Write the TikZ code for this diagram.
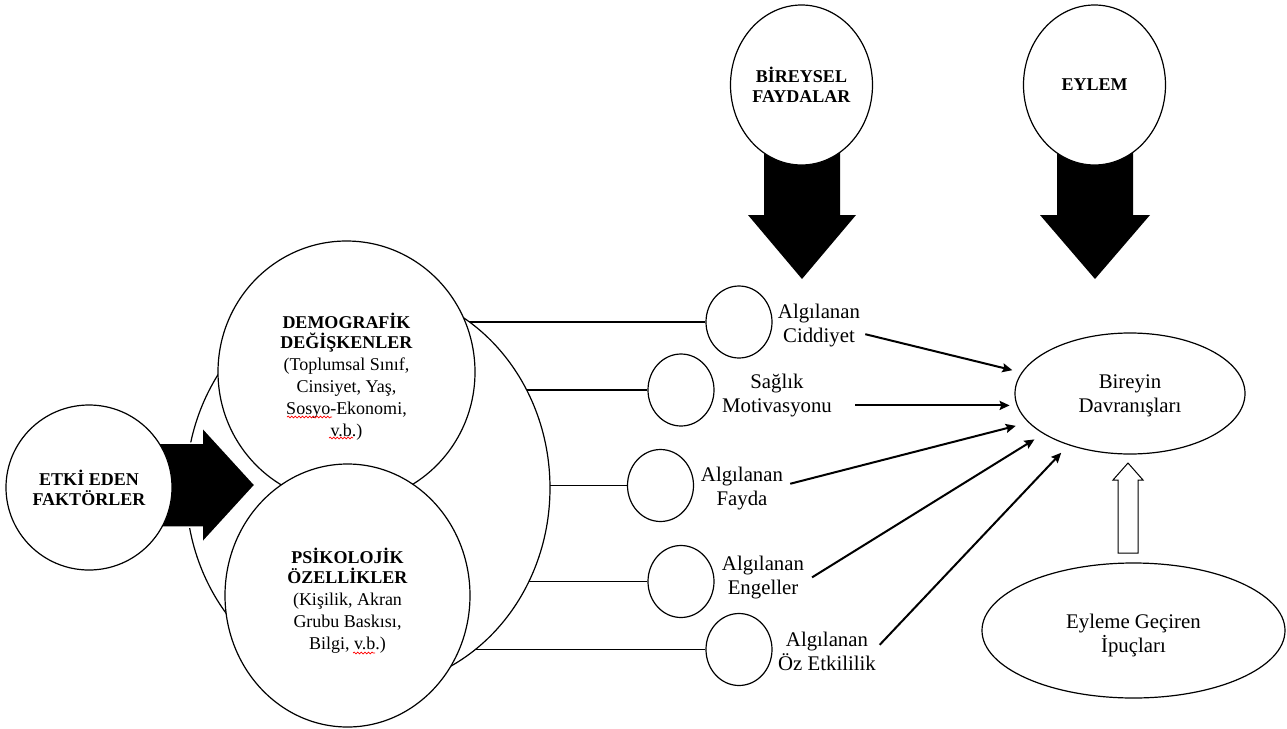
\documentclass[tikz,border=0pt]{standalone}
\usepackage{fontspec}
\setmainfont{Liberation Serif}
\usetikzlibrary{shapes.geometric,arrows.meta,decorations.pathmorphing}
\tikzset{
  shp/.style={ellipse, draw, line width=0.6pt, fill=white, inner sep=0pt, align=center},
  bigtxt/.style={font=\fontsize{9}{10}\selectfont},
  midtxt/.style={font=\fontsize{9}{11}\selectfont},
  lab/.style={align=center, inner sep=0pt, font=\fontsize{10.4}{12}\selectfont},
  arr/.style={-{Stealth[length=5pt,width=4.5pt,inset=0.8pt]}, line width=1pt},
  conn/.style={line width=0.6pt},
  blockarr/.style={fill=black},
  openarr/.style={draw=black, line width=0.5pt, fill=white},
  spell/.style={draw=red, line width=0.35pt, decorate, decoration={snake, amplitude=0.45pt, segment length=1.8pt}},
}
\begin{document}
\begin{tikzpicture}[x=0.5pt, y=-0.5pt]
\useasboundingbox (0,0) rectangle (1287,729);

% top block arrows (under circles)
\fill[blockarr] (764,140) -- (840,140) -- (840,215) -- (856,215) -- (802,279) -- (748,215) -- (764,215) -- cycle;
\fill[blockarr] (1057,140) -- (1133,140) -- (1133,215) -- (1150,215) -- (1095,279) -- (1040,215) -- (1057,215) -- cycle;

% top circles
\node[shp, bigtxt, minimum width=71pt, minimum height=80pt] (bir) at (801.5,85) {\textbf{BİREYSEL}\\\textbf{FAYDALAR}};
\node[shp, bigtxt, minimum width=71pt, minimum height=80pt] (eylem) at (1094.5,85) {\textbf{EYLEM}};

% small circles
\node[shp, minimum width=33pt, minimum height=36pt] (c1) at (739,322) {};
\node[shp, minimum width=33pt, minimum height=36pt] (c2) at (681,390) {};
\node[shp, minimum width=33pt, minimum height=36pt] (c3) at (660.5,485.5) {};
\node[shp, minimum width=33pt, minimum height=36pt] (c4) at (681,581.5) {};
\node[shp, minimum width=33pt, minimum height=36pt] (c5) at (739,649.5) {};

% centre of the big ellipse
\coordinate (bigc) at (368,488);
\draw[conn] (c1.west) -- (c1.west -| bigc);
\draw[conn] (c2.west) -- (c2.west -| bigc);
\draw[conn] (c3.west) -- (c3.west -| bigc);
\draw[conn] (c4.west) -- (c4.west -| bigc);
\draw[conn] (c5.west) -- (c5.west -| bigc);

% big enclosing ellipse and inner circles
\node[shp, minimum width=182pt, minimum height=200pt] (big) at (bigc) {};
\node[shp, midtxt, minimum width=128.5pt, minimum height=131pt] (demo) at (346.5,372)
  {\rule{0pt}{12pt}\textbf{DEMOGRAFİK}\\[-1pt]\textbf{DEĞİŞKENLER}\\(Toplumsal Sınıf,\\Cinsiyet, Yaş,\\Sosyo-Ekonomi,\\v.b.)};
\node[shp, midtxt, minimum width=122.5pt, minimum height=131.5pt] (psy) at (347.5,595.5)
  {\rule{0pt}{12.5pt}\textbf{PSİKOLOJİK}\\[-1pt]\textbf{ÖZELLİKLER}\\(Kişilik, Akran\\Grubu Baskısı,\\Bilgi, v.b.)};
% spell-check marks
\draw[spell] (287,417) -- (332,417);
\draw[spell] (329,438) -- (353,438);
\draw[spell] (353,653) -- (375,653);

% left block arrow
\filldraw[blockarr, draw=white, line width=0.75pt] (150,443) -- (202,443) -- (202,427) -- (255,485) -- (202,543) -- (202,527) -- (150,527) -- cycle;
\node[shp, bigtxt, minimum width=83pt, minimum height=82.5pt] (etki) at (89,487.5) {\textbf{ETKİ EDEN}\\\textbf{FAKTÖRLER}};

% labels
\node[lab] (l1) at (819,326) {Algılanan\\Ciddiyet};
\node[lab] (l2) at (777,395.5) {Sağlık\\Motivasyonu};
\node[lab] (l3) at (742,488.5) {Algılanan\\Fayda};
\node[lab] (l4) at (763,577.5) {Algılanan\\Engeller};
\node[lab] (l5) at (827,651.5) {Algılanan\\Öz Etkililik};

% right ellipses
\node[shp, font=\fontsize{10.4}{12}\selectfont, minimum width=115pt, minimum height=60.5pt] (beh) at (1130,393.5) {\rule{0pt}{9pt}Bireyin\\Davranışları};
\node[shp, font=\fontsize{10.4}{12}\selectfont, minimum width=151.5pt, minimum height=67.5pt] (cue) at (1133.5,630.5) {\rule{0pt}{12pt}Eyleme Geçiren\\İpuçları};

% arrows to behaviour
\draw[arr, shorten <=2.5pt, shorten >=4.7pt] ([yshift=-3.5pt]l1.east) -- (beh.169.1);
\draw[arr, shorten <=11.5pt, shorten >=3.5pt] (l2.east |- beh.186) -- (beh.186);
\draw[arr, shorten <=3.5pt, shorten >=6.5pt] ([yshift=1.5pt]l3.east) -- (beh.196.5);
\draw[arr, shorten <=4.5pt, shorten >=5.2pt] ([yshift=-2.3pt]l4.east) -- (beh.205.5);
\draw[arr, shorten <=2.5pt, shorten >=5.2pt] ([yshift=1.5pt]l5.east) -- (beh.220.2);

% open arrow from cues to behaviour
\draw[openarr] (1118,553) -- (1118,480) -- (1113,480) -- (1128,463) -- (1143,480) -- (1138,480) -- (1138,553) -- cycle;
\end{tikzpicture}
\end{document}
